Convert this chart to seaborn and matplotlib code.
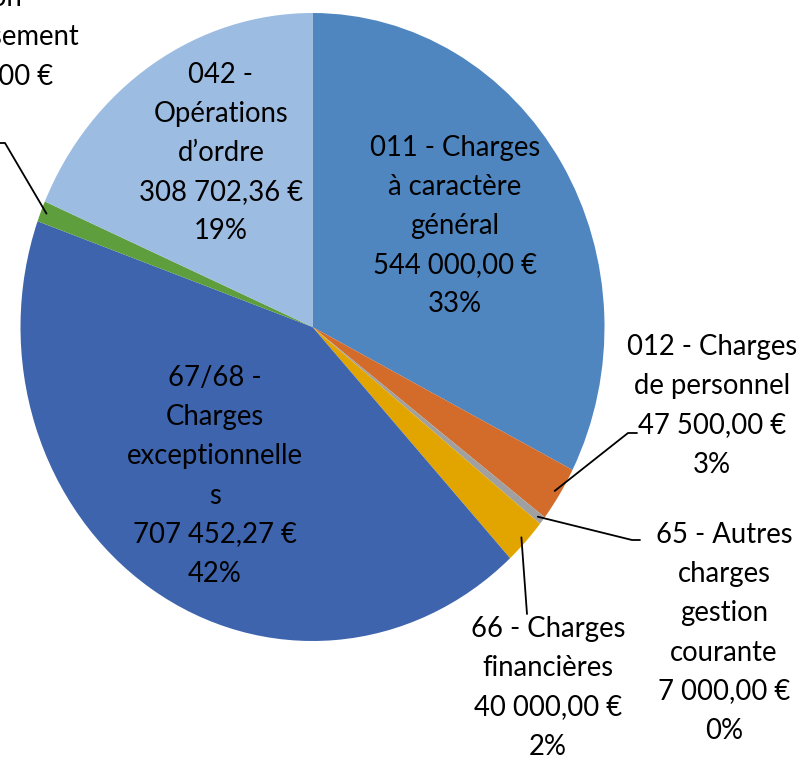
import matplotlib
matplotlib.use("Agg")
import matplotlib.pyplot as plt
import seaborn as sns
import numpy as np

# Budget chapters (dépenses de fonctionnement)
names = ["011 - Charges\nà caractère\ngénéral",
         "012 - Charges\nde personnel",
         "65 - Autres\ncharges\ngestion\ncourante",
         "66 - Charges\nfinancières",
         "67/68 -\nCharges\nexceptionnelle\ns",
         "023 - Virement à la\nsection\nd’investissement",
         "042 -\nOpérations\nd’ordre"]
amounts = [544000.00, 47500.00, 7000.00, 40000.00, 707452.27, 18000.00, 308702.36]
percents = [33, 3, 0, 2, 42, 1, 19]
colors = ["#4F86C0", "#D36B2B", "#A0A0A0", "#E2A500", "#3D64AD", "#5F9E3D", "#9CBCE2"]

# label centres and leader elbows, in pixels of the 803x760 picture
label_pos = [(455, 226), (712, 406), (724, 633), (548, 688), (215, 476), (-21, 37), (221, 153)]
leader_elbow = [None, (628, 433), (632, 540), (527, 614), None, (5, 143), None]
leader_end = [None, (637, 433), (640, 540), None, None, (0, 143), None]

W, H = 803, 760
CX, CY, RX, RY = 312.5, 327.0, 292.0, 314.0


def fr_money(v):
    s = f"{v:,.2f}".replace(",", " ").replace(".", ",")
    return s + " €"


def px(x, y):
    return (x - CX) / RX, (CY - y) / RY


sns.set_theme(style="white")
plt.rcParams['font.family'] = ['Lato', 'DejaVu Sans']

fig = plt.figure(figsize=(W / 100, H / 100), dpi=100)
ax = fig.add_axes([(CX - RX) / W, 1 - (CY + RY) / H, 2 * RX / W, 2 * RY / H])
wedges, _ = ax.pie(amounts, colors=colors, startangle=90, counterclock=False,
                   wedgeprops=dict(linewidth=0))
ax.set_aspect('auto')
ax.set_xlim(-1, 1)
ax.set_ylim(-1, 1)
ax.axis('off')

for i, w in enumerate(wedges):
    label = f"{names[i]}\n{fr_money(amounts[i])}\n{percents[i]}%"
    ax.text(*px(*label_pos[i]), label, ha='center', va='center', fontsize=19.8,
            linespacing=1.62, color='black', clip_on=False)
    if leader_elbow[i] is not None:
        mid = np.deg2rad((w.theta1 + w.theta2) / 2)
        start = (0.98 * np.cos(mid), 0.98 * np.sin(mid))
        pts = [start, px(*leader_elbow[i])]
        if leader_end[i] is not None:
            pts.append(px(*leader_end[i]))
        xs, ys = zip(*pts)
        ax.plot(xs, ys, color='black', lw=1.3, clip_on=False)

fig.savefig("out.png", dpi=100)
